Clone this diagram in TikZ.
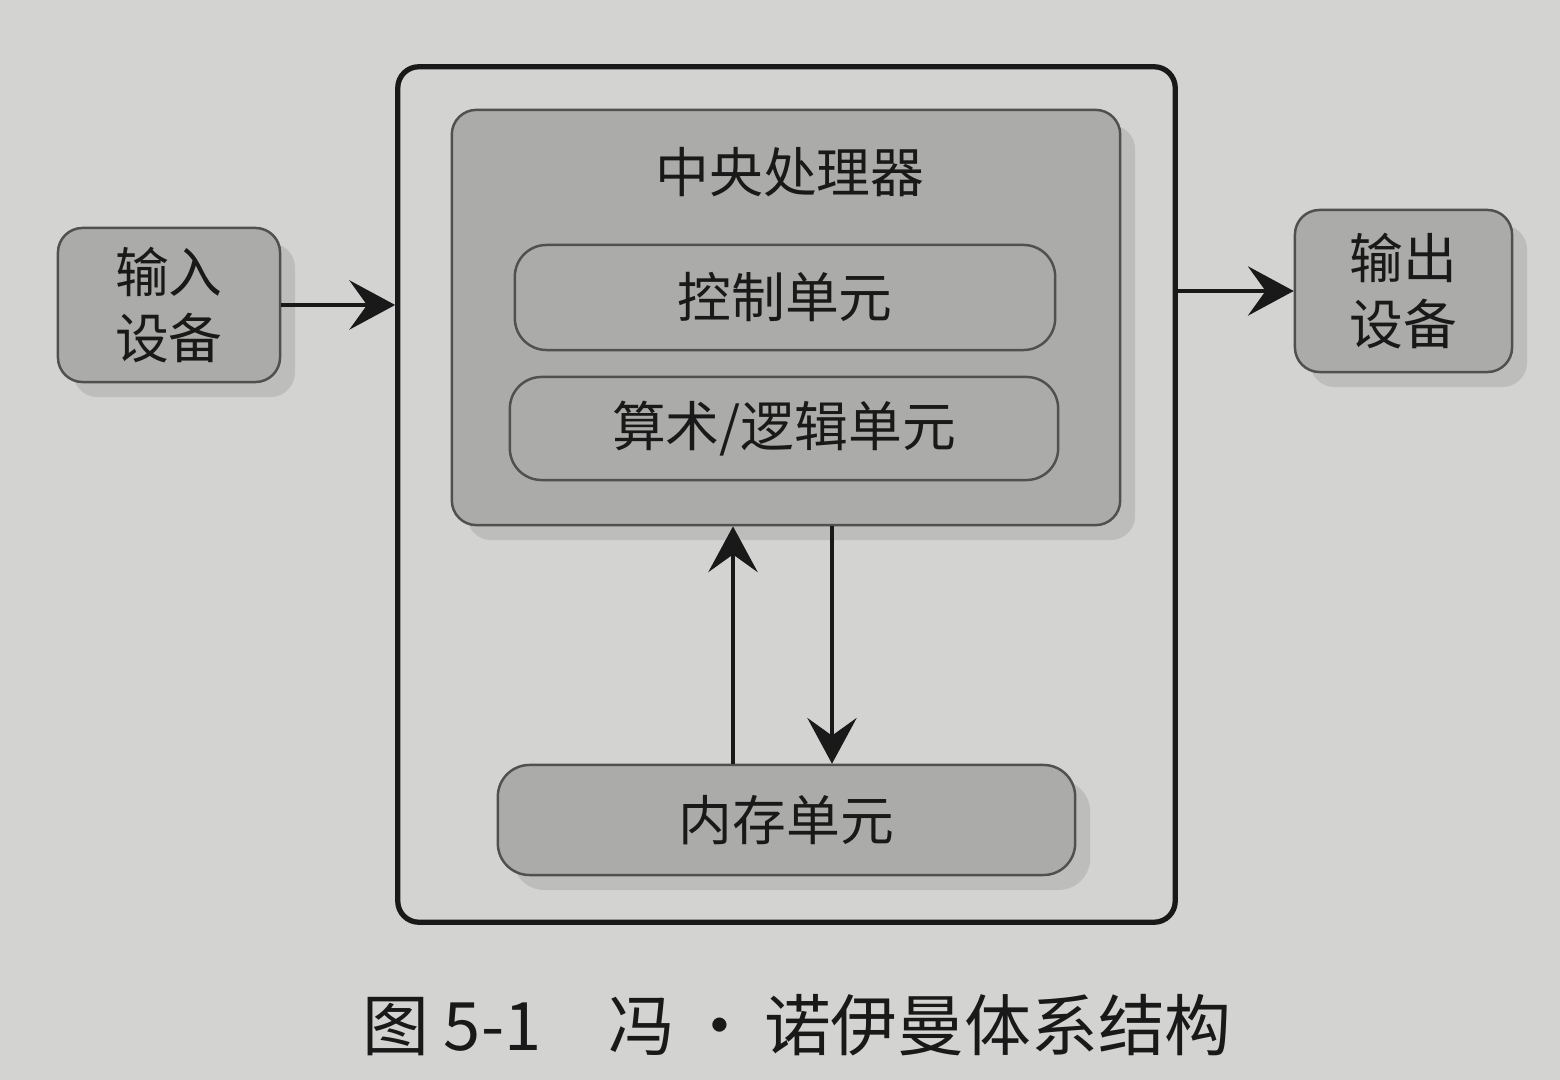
\documentclass[tikz,border=0pt]{standalone}
\usepackage{fontspec}
\newfontfamily\cjk{Noto Sans CJK SC}
\usetikzlibrary{arrows.meta,shadows}
\definecolor{paper}{HTML}{D3D3D1}
\definecolor{boxfill}{HTML}{ABABA9}
\definecolor{boxline}{HTML}{505050}
\definecolor{shade}{HTML}{BDBDBB}
\begin{document}
\begin{tikzpicture}[x=0.01cm,y=-0.01cm,
  plainunit/.style={draw=boxline,line width=0.7pt,fill=boxfill,rounded corners=7pt,
    inner sep=0pt,font=\cjk\fontsize{15.3}{19}\selectfont,text=black!90},
  unit/.style={plainunit,
    drop shadow={shadow xshift=1.5mm,shadow yshift=-1.5mm,fill=shade,opacity=1}},
  label/.style={inner sep=0pt,font=\cjk\fontsize{15.3}{19}\selectfont,text=black!90},
  arr/.style={line width=1.2pt,draw=black!90,-{Stealth[length=13pt,width=14pt,inset=5pt]}}]
  \fill[paper] (0,0) rectangle (1560,1080);
  \useasboundingbox (0,0) rectangle (1560,1080);
  % outer box
  \node[draw=black!90,line width=1.5pt,rounded corners=6pt,minimum width=7.77cm,minimum height=8.55cm,inner sep=0pt] (outer) at (786.5,494.5) {};
  % CPU
  \node[unit,minimum width=6.68cm,minimum height=4.15cm] (cpu) at (786,317.5) {};
  \node[label] (cputitle) at (790,172) {中央处理器};
  \node[plainunit,minimum width=5.40cm,minimum height=1.05cm,rounded corners=9pt] (ctrl) at (785,297.5) {控制单元};
  \node[plainunit,minimum width=5.48cm,minimum height=1.03cm,rounded corners=9pt] (alu) at (784,428.5) {算术/逻辑单元};
  % memory
  \node[unit,minimum width=5.77cm,minimum height=1.10cm,rounded corners=9pt] (mem) at (786.5,820) {内存单元};
  % I/O
  \node[unit,minimum width=2.22cm,minimum height=1.54cm,align=center] (in) at (169,305) {输入\\设备};
  \node[unit,minimum width=2.17cm,minimum height=1.62cm,align=center] (out) at (1403.5,291) {输出\\设备};
  % connectors
  \coordinate (ux) at (733,600);
  \coordinate (dx) at (832,600);
  \draw[arr] (mem.north -| ux) -- (cpu.south -| ux);
  \draw[arr] (cpu.south -| dx) -- (mem.north -| dx);
  \draw[arr] (in.east) -- (in.east -| outer.west);
  \draw[arr] (out.west -| outer.east) -- (out.west);
  % caption
  \node[inner sep=0pt,font=\cjk\fontsize{19}{22}\selectfont,text=black!90] (caption) at (797,1025) {图 5-1\hspace{1em}冯\,·\,诺伊曼体系结构};
\end{tikzpicture}
\end{document}
